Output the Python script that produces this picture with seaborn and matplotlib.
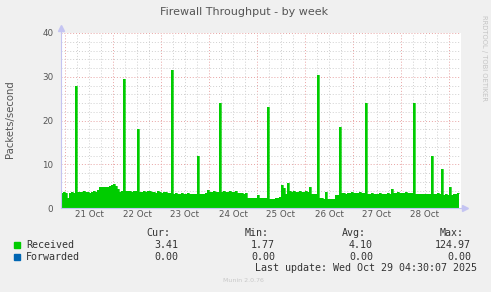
import matplotlib
matplotlib.use("Agg")
import matplotlib.pyplot as plt
import matplotlib.dates as mdates
from matplotlib.patches import Rectangle
from matplotlib.ticker import MultipleLocator, NullFormatter
import pandas as pd
import seaborn as sns

# ---------------- data ----------------
start_time = "2025-10-20 22:00"
received = [
    3.5, 3.6, 3.4, 2.4, 3.5, 3.6, 3.5, 28.0, 3.7, 3.6,
    3.7, 3.8, 3.6, 3.7, 3.5, 3.7, 3.8, 3.6, 4.2, 4.7,
    4.8, 4.9, 4.7, 4.8, 5.0, 5.2, 5.4, 5.1, 4.3, 3.7,
    3.8, 29.5, 3.9, 3.8, 4.0, 3.7, 3.9, 3.8, 18.0, 3.6,
    3.7, 3.9, 3.6, 4.0, 3.8, 3.6, 3.7, 3.5, 3.8, 3.6,
    3.5, 3.7, 3.6, 3.4, 3.5, 31.5, 3.3, 3.4, 3.2, 3.3,
    3.4, 3.3, 3.2, 3.4, 3.3, 3.2, 3.3, 3.1, 12.0, 3.3,
    3.2, 3.3, 3.4, 4.1, 3.7, 3.6, 3.8, 3.7, 3.6, 24.0,
    3.7, 3.8, 3.6, 3.7, 3.9, 3.6, 3.7, 3.8, 3.5, 3.4,
    3.4, 3.3, 3.4, 2.3, 2.3, 2.2, 2.3, 2.4, 2.9, 2.3,
    2.3, 2.2, 2.3, 23.0, 2.0, 2.1, 2.0, 2.4, 2.4, 2.5,
    5.2, 4.5, 3.2, 5.7, 4.0, 3.7, 3.8, 3.6, 3.7, 3.8,
    3.6, 3.7, 3.8, 3.7, 4.8, 3.3, 3.2, 3.3, 30.5, 2.2,
    2.2, 2.1, 3.7, 2.0, 2.0, 2.1, 2.0, 3.0, 3.0, 18.5,
    3.4, 3.5, 3.3, 3.4, 3.5, 3.6, 3.5, 3.4, 3.5, 3.6,
    3.5, 3.4, 24.0, 3.3, 3.2, 3.4, 3.3, 3.2, 3.3, 3.4,
    3.3, 3.2, 3.3, 3.4, 3.3, 4.3, 3.5, 3.4, 3.6, 3.5,
    3.4, 3.5, 3.6, 3.5, 3.4, 3.5, 24.0, 3.2, 3.1, 3.2,
    3.3, 3.2, 3.1, 3.2, 3.2, 12.0, 3.3, 3.2, 3.4, 3.3,
    9.0, 3.0, 3.1, 2.9, 4.8, 3.0, 3.3, 3.2, 3.4, 3.41,
]
forwarded = [0.0] * len(received)

day_labels = ["21 Oct", "22 Oct", "23 Oct", "24 Oct", "25 Oct", "26 Oct", "27 Oct", "28 Oct"]
first_label_noon = "2025-10-21 12:00"
y_major = 10
y_minor = 2
y_max = 40

series_names = ["Received", "Forwarded"]
series_colors = ["#00CC00", "#0066B3"]
cur_vals = ["3.41", "0.00"]
min_vals = ["1.77", "0.00"]
avg_vals = ["4.10", "0.00"]
max_vals = ["124.97", "0.00"]
title = "Firewall Throughput - by week"
ylabel = "Packets/second"
last_update = "Last update: Wed Oct 29 04:30:07 2025"
version = "Munin 2.0.76"
watermark = "RRDTOOL / TOBI OETIKER"

# ---------------- figure ----------------
times = pd.date_range(start_time, periods=len(received), freq="h")
df = pd.DataFrame({"time": times, "Received": received, "Forwarded": forwarded})

sns.set_style("white")
plt.rcParams["font.family"] = ["DejaVu Sans"]

W, H = 491, 292
fig = plt.figure(figsize=(W / 100, H / 100), dpi=100, facecolor="#F0F0F0")
ax = fig.add_axes([61 / W, (H - 208) / H, 400 / W, 175 / H])
ax.set_facecolor("white")

ax.fill_between(df["time"], df["Received"], step="post", color=series_colors[0], lw=0, zorder=3)
sns.lineplot(data=df, x="time", y="Received", drawstyle="steps-post",
             color=series_colors[0], lw=0.5, ax=ax, zorder=3)
sns.lineplot(data=df, x="time", y="Forwarded", drawstyle="steps-post",
             color=series_colors[1], lw=0.6, ax=ax, zorder=4)

ax.set_xlim(times[0], times[0] + pd.Timedelta(hours=200))
ax.set_ylim(0, y_max)
ax.set_xlabel("")
ax.set_ylabel("")

grid_major = "#E8A3A3"
grid_minor = "#CFCFCF"
ax.xaxis.set_major_locator(mdates.DayLocator())
ax.xaxis.set_minor_locator(mdates.HourLocator(byhour=[6, 12, 18]))
ax.xaxis.set_major_formatter(NullFormatter())
ax.yaxis.set_major_locator(MultipleLocator(y_major))
ax.yaxis.set_minor_locator(MultipleLocator(y_minor))

ax.grid(True, which="major", color=grid_major, linestyle=(0, (1, 2)), lw=0.7, zorder=1)
ax.grid(True, which="minor", color=grid_minor, linestyle=(0, (1, 2)), lw=0.7, zorder=0)
ax.set_axisbelow(True)

ax.tick_params(axis="x", which="both", length=0)
ax.tick_params(axis="y", which="major", length=2, color=grid_major, direction="out",
               labelsize=6.3, labelcolor="#555555", pad=3.5)
ax.tick_params(axis="y", which="minor", length=2, color=grid_minor, direction="out")

for s in ["top", "right"]:
    ax.spines[s].set_visible(False)
axis_col = "#C4C4F2"
for s in ["left", "bottom"]:
    ax.spines[s].set_color(axis_col)
    ax.spines[s].set_linewidth(0.8)
    ax.spines[s].set_zorder(5)

# axis arrows
ax.plot([0, 0], [1, 1 + 5 / 175], transform=ax.transAxes, color=axis_col, lw=0.8, clip_on=False)
ax.plot([0], [1 + 5 / 175], marker="^", ms=4, color=axis_col, transform=ax.transAxes, clip_on=False)
ax.plot([1, 1 + 4 / 400], [0, 0], transform=ax.transAxes, color=axis_col, lw=0.8, clip_on=False)
ax.plot([1 + 4 / 400], [0], marker=">", ms=4, color=axis_col, transform=ax.transAxes, clip_on=False)

# day labels at noon
for i, lab in enumerate(day_labels):
    ax.text(pd.Timestamp(first_label_noon) + pd.Timedelta(days=i), -6.5 / 175, lab,
            transform=ax.get_xaxis_transform(), ha="center", va="center",
            fontsize=6.3, color="#555555")

# titles
fig.text(244.5 / W, 1 - 12 / H, title, ha="center", va="center", fontsize=8, color="#555555")
fig.text(10 / W, 1 - 119 / H, ylabel, ha="center", va="center", rotation=90,
         fontsize=7.3, color="#555555")
fig.text(484 / W, 1 - 58 / H, watermark, ha="center", va="center", rotation=270,
         fontsize=4.9, color="#C4C4C4")

# legend
mono = {"family": "DejaVu Sans Mono", "size": 7.2, "color": "#333333"}
hy = 1 - 233 / H
for txt, xr in zip(["Cur:", "Min:", "Avg:", "Max:"], [170, 269, 366, 464]):
    fig.text(xr / W, hy, txt, ha="right", va="center", fontdict=mono)

row_y = [245, 257]
for i, name in enumerate(series_names):
    yy = row_y[i]
    fig.patches.append(Rectangle((14 / W, 1 - (yy + 3) / H), 6 / W, 6 / H,
                                 transform=fig.transFigure, color=series_colors[i]))
    fig.text(26 / W, 1 - yy / H, name, ha="left", va="center", fontdict=mono)
    for vals, xr in zip([cur_vals, min_vals, avg_vals, max_vals], [178, 275, 373, 471]):
        fig.text(xr / W, 1 - yy / H, vals[i], ha="right", va="center", fontdict=mono)

fig.text(477 / W, 1 - 268 / H, last_update, ha="right", va="center", fontdict=mono)
fig.text(243 / W, 1 - 281 / H, version, ha="center", va="center", fontsize=4.5, color="#C8C8C8")

fig.savefig("out.png", dpi=100, facecolor=fig.get_facecolor())
